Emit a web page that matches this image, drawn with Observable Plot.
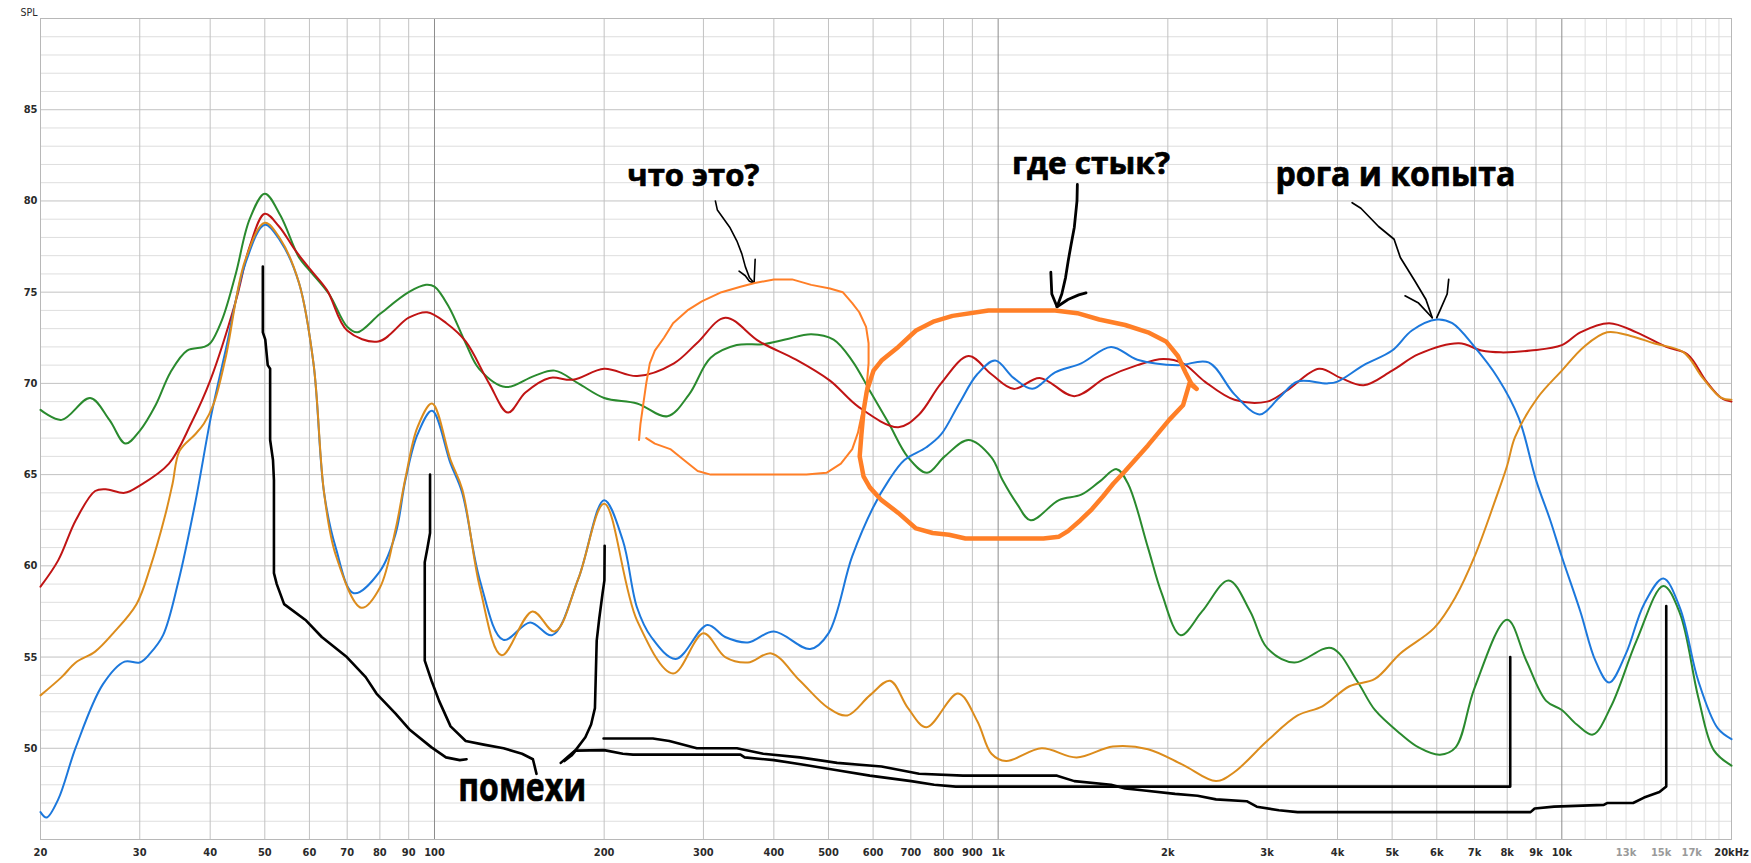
<!DOCTYPE html>
<html><head><meta charset="utf-8">
<script src="https://cdn.jsdelivr.net/npm/d3@7"></script>
<script src="https://cdn.jsdelivr.net/npm/@observablehq/plot@0.6"></script>
<style>
html,body{margin:0;padding:0;background:#fff;}
#chart{width:1751px;height:863px;}
</style></head><body><div id="chart"></div>
<script>
// ---- measured responses [frequency Hz, SPL dB] ----
const green = [[20,68.55],[21.8,68.0],[24.5,69.2],[26.5,68.0],[28.3,66.7],[30,67.4],[32,68.8],[34,70.6],[36.4,71.8],[39,72.0],[40,72.2],[42,73.5],[44.4,76.0],[47,79.0],[50,80.4],[53.3,79.2],[57.5,76.9],[60,76.2],[65,74.9],[70,73.1],[73,72.8],[80,73.8],[90,75.0],[96.6,75.4],[100,75.3],[106,74.2],[113.6,72.2],[120,70.8],[133.8,69.8],[150,70.4],[163.4,70.7],[180,70.0],[200,69.2],[228.8,68.9],[259,68.2],[283,69.4],[309,71.4],[343.7,72.1],[382.6,72.15],[419,72.4],[466,72.7],[510.6,72.4],[550.6,71.25],[592,69.6],[640,67.8],[692,65.95],[748,65.1],[804,66.0],[886,66.9],[973,65.95],[1018,64.7],[1080,63.4],[1142,62.5],[1282,63.6],[1404,63.9],[1511,64.6],[1622,65.3],[1700,64.5],[1844,61.0],[1950,58.5],[2108,56.2],[2300,57.5],[2564,59.2],[2800,57.5],[3000,55.5],[3350,54.7],[3900,55.5],[4330,53.7],[4660,52.1],[5170,50.8],[5570,50.05],[6080,49.65],[6480,50.05],[7000,53.3],[8000,57.05],[8650,54.8],[9380,52.6],[10000,52.1],[10630,51.3],[11350,50.75],[12230,52.3],[13570,55.9],[15140,58.9],[16200,57.4],[17460,52.8],[18600,49.9],[20000,49.05]];
const red = [[20,58.86],[21.5,60.3],[23.1,62.5],[25,64.1],[26.1,64.2],[28.2,64.0],[30,64.4],[33.8,65.6],[37,67.8],[40,70.15],[44.4,74.5],[47,77.5],[50,79.3],[53,78.6],[56.6,77.3],[60,76.3],[64.5,75.1],[70,72.9],[79.5,72.3],[90,73.6],[97,73.9],[105,73.3],[113.6,72.3],[125,70.0],[135,68.4],[145,69.5],[160,70.3],[176,70.2],[200,70.8],[228.8,70.4],[266,71.1],[292,72.2],[328,73.6],[376.8,72.3],[438,71.3],[503,70.15],[566,68.7],[665,67.6],[724,68.3],[792,70.0],[886,71.5],[973,70.5],[1065,69.7],[1185,70.3],[1365,69.3],[1550,70.3],[1766,71.0],[1963,71.34],[2128,71.1],[2326,70.1],[2626,69.1],[3000,69.0],[3250,69.6],[3710,70.8],[4050,70.3],[4452,69.9],[5000,70.7],[5570,71.6],[6570,72.2],[7200,71.8],[7800,71.7],[8800,71.8],[10000,72.1],[10786,72.8],[12134,73.3],[13570,72.8],[15320,72.0],[16700,71.6],[18060,70.1],[19190,69.2],[20000,69.0]];
const blue = [[20,46.5],[20.5,46.2],[21.5,47.2],[23.1,50.05],[25.8,53.5],[28.2,54.75],[30,54.7],[31.3,55.2],[33,56.2],[35.1,59.1],[37.6,63.4],[40.2,68.3],[42.6,71.8],[46.1,76.5],[50,78.7],[53.3,77.8],[57.5,75.5],[61,71.1],[63.7,64.0],[66.8,61.0],[71.9,58.5],[80,59.7],[85.3,61.75],[88.8,64.7],[93.3,67.2],[99,68.5],[106.8,65.6],[112,64.0],[120.4,59.2],[132.5,55.94],[147.8,56.9],[161.8,56.2],[180,59.3],[200,63.6],[215.8,61.4],[228.8,57.7],[242.4,56.1],[268,54.9],[304.8,56.76],[327.9,56.1],[359.8,55.8],[400,56.4],[464,55.44],[500,56.3],[550.6,60.5],[600,63.2],[640,64.7],[682,65.8],[746,66.5],[792,67.2],[853,68.9],[918,70.5],[988,71.25],[1065,70.3],[1150,69.7],[1262,70.6],[1404,71.1],[1586,72.0],[1766,71.3],[2084,71.0],[2362,71.15],[2626,69.4],[2910,68.3],[3148,69.2],[3398,70.1],[3836,70.0],[4000,70.1],[4452,71.0],[5000,71.8],[5420,72.9],[6000,73.5],[6392,73.3],[7000,72.0],[7700,70.3],[8388,68.1],[9000,64.7],[9538,62.5],[10000,60.5],[10786,57.5],[11470,54.8],[12134,53.6],[13000,55.2],[13992,57.9],[15140,59.3],[16200,57.7],[17460,53.7],[18900,51.1],[20000,50.5]];
const orange = [[20,52.9],[21.8,53.9],[23.1,54.7],[25,55.3],[26.9,56.3],[29.6,57.9],[31.3,59.9],[33.3,62.8],[34.3,64.5],[35.3,66.3],[37.6,67.2],[39,67.8],[40.6,68.9],[42.6,71.4],[46.1,76.7],[50,78.8],[53.3,77.9],[57.5,75.5],[61,71.1],[63.7,64.0],[66.8,60.6],[74.2,57.7],[80,58.8],[85.3,62.0],[88.8,64.8],[93.3,67.6],[99,68.9],[106.8,65.8],[112,64.2],[120.4,58.8],[131.6,55.1],[149.2,57.5],[163.4,56.4],[180,59.3],[200,63.4],[228.8,57.0],[265,54.1],[300,56.3],[327.9,55.0],[359.8,54.7],[396,55.2],[445,53.7],[500,52.2],[540,51.8],[592,52.9],[643,53.7],[692,52.2],[746,51.15],[849,53.0],[918,51.5],[973,49.7],[1033,49.3],[1194,50.0],[1378,49.5],[1598,50.1],[1844,49.95],[2124,49.1],[2435,48.2],[2626,48.7],[3000,50.4],[3398,51.8],[3760,52.3],[4200,53.4],[4660,53.8],[5170,55.2],[5940,56.6],[6480,58.3],[7000,60.5],[7620,63.6],[8000,65.5],[8260,67.05],[9050,69.2],[10000,70.7],[10940,72.0],[12030,72.8],[13250,72.6],[14560,72.2],[16450,71.7],[17780,70.3],[19190,69.2],[20000,69.1]];

// ---- hand-drawn annotations [frequency Hz, SPL dB] ----
const noise50 = [[49.6,76.4],[49.6,72.8],[50.1,72.4],[50.6,71.0],[51.1,70.8],[51.1,66.9],[51.7,65.8],[51.9,64.7],[51.9,59.6],[52.5,59.0],[54.1,57.9],[59.2,57.0],[63.1,56.1],[69.9,55.0],[75.5,53.9],[78.9,53.0],[85.3,51.9],[90.5,51.0],[98.8,50.05],[104.8,49.5],[110.9,49.35],[114,49.4]];
const noise100 = [[98.2,65.0],[98.2,61.8],[97.2,61.0],[96.1,60.2],[96.1,54.8],[98.8,53.7],[101.9,52.6],[106.8,51.2],[113.6,50.4],[122.3,50.2],[132.6,50.0],[143,49.7],[149.5,49.4],[151.7,48.6]];
const noise200 = [[200.4,61.1],[200.2,59.2],[198.7,58.5],[196,57.1],[194,55.9],[192.6,52.2],[189.6,51.3],[185.2,50.6],[178,49.9],[167.5,49.2]];
const floorTo8k = [[170,49.3],[175,49.6],[178,49.87],[200,49.9],[215.8,49.7],[225,49.65],[349,49.65],[355,49.5],[400,49.35],[452,49.1],[518,48.8],[592,48.5],[701,48.2],[770,48.0],[841,47.9],[8100,47.9],[8100,55.0]];
const floorTo15k = [[199.5,50.54],[244,50.54],[261,50.4],[292,50.0],[344,50.0],[383,49.7],[445,49.5],[518,49.2],[621,49.0],[724,48.6],[866,48.5],[1272,48.5],[1365,48.2],[1586,48.0],[1680,47.8],[1800,47.7],[2060,47.5],[2258,47.4],[2435,47.2],[2760,47.1],[2876,46.8],[3148,46.6],[3398,46.5],[8800,46.5],[8950,46.7],[9690,46.8],[11870,46.9],[12030,47.0],[13380,47.0],[13992,47.3],[14900,47.6],[15320,47.9],[15320,57.8]];
const arrowWhat = [[315,80.0],[317.6,79.5],[334,78.56],[344,77.8],[351,77.1],[356,76.4],[362,75.8],[369,75.5]];
const arrowWhatHead = [[347,76.15],[356,75.9],[362,75.6],[369,75.5],[370.6,76.8]];
const arrowJoint = [[1382,80.9],[1380,80.0],[1365,78.56],[1347,77.6],[1331,76.7],[1317,75.8],[1297,74.9],[1272,74.2]];
const arrowJointHead = [[1240,76.1],[1245,74.9],[1272,74.2],[1330,74.6],[1390,74.85],[1432,74.96]];
const arrowHorns = [[4246,79.9],[4400,79.6],[4730,78.6],[5040,77.9],[5170,76.9],[5490,75.6],[5740,74.6],[5890,73.6]];
const arrowHornsLeft = [[5270,74.8],[5570,74.4],[5890,73.6]];
const arrowHornsRight = [[6300,75.7],[6260,74.9],[6080,74.0],[6000,73.6]];
const circleThin = [[230.6,66.9],[232,67.8],[237.5,70.0],[241,71.1],[246,71.8],[255.4,72.5],[265,73.3],[281,74.0],[298,74.5],[323,75.0],[349,75.3],[370,75.5],[400,75.7],[431,75.7],[466,75.4],[503,75.2],[530,75.0],[551,74.4],[567,73.9],[583,73.1],[589,72.2],[589,71.1],[585,70.0],[580,68.9],[572,68.2],[564,67.3],[551,66.4],[526,65.6],[496,65.1],[457,65.0],[309,65.0],[293,65.2],[277,65.8],[262,66.4],[246,66.7],[237.5,67.0]];
const circleThick = [[621,71.25],[665,72.0],[715,72.9],[770,73.4],[830,73.7],[961,74.0],[1040,74.0],[1262,74.0],[1382,73.85],[1511,73.5],[1680,73.2],[1844,72.8],[1985,72.3],[2084,71.5],[2150,70.6],[2200,70.0],[2250,69.7],[2185,70.0],[2128,68.8],[2011,68.0],[1844,66.6],[1680,65.2],[1600,64.5],[1534,63.8],[1466,63.1],[1400,62.5],[1330,61.9],[1282,61.6],[1203,61.5],[875,61.5],[818,61.7],[765,61.8],[715,62.05],[665,62.9],[621,63.6],[592,64.3],[577,64.9],[568,66.0],[572,67.2],[577,68.5],[585,69.6],[601,70.7],[621,71.25]];
const notes = ["что это?", "где стык?", "рога и копыта", "помехи"];
const noteFreq = [219.8, 1058, 3104, 110.2];
const noteSpl = [80.84, 81.45, 80.84, 47.09];

// ---- axes ----
const xTickValues = [20,30,40,50,60,70,80,90,100,200,300,400,500,600,700,800,900,1000,2000,3000,4000,5000,6000,7000,8000,9000,10000,13000,15000,17000,20000];
const xTickLabels = ["20","30","40","50","60","70","80","90","100","200","300","400","500","600","700","800","900","1k","2k","3k","4k","5k","6k","7k","8k","9k","10k","13k","15k","17k","20kHz"];
const xFaintTicks = [13000,15000,17000];
const yTickValues = [50,55,60,65,70,75,80,85];
const vGrid = [30,40,50,60,70,80,90,200,300,400,500,600,700,800,900,2000,3000,4000,5000,6000,7000,8000,9000];
const vGridFine = [11000,12000,13000,14000,15000,16000,17000,18000,19000];
const vGridDecade = [100,1000,10000];
const hGridFine = d3.range(46, 90).filter(v => v % 5 !== 0);
const hGrid = [50,55,60,65,70,75,80,85];

// styling of the hand-written notes
const noteSizes = [31, 31, 34, 40];
const noteLengths = [132, 158, 240, 128];

const P = (pts) => pts.map(([f, s]) => ({f, s}));
const curve = (pts, color) => Plot.line(P(pts), {x: "f", y: "s", stroke: color, strokeWidth: 2, curve: "catmull-rom"});
const ink = (pts, w, color = "#000") => Plot.line(P(pts), {x: "f", y: "s", stroke: color, strokeWidth: w, curve: "linear", strokeLinejoin: "round", strokeLinecap: "round"});

const tickFont = "'DejaVu Sans Condensed', 'DejaVu Sans', sans-serif";
const plot = Plot.plot({
  width: 1751, height: 863,
  marginLeft: 40, marginRight: 20, marginTop: 18, marginBottom: 24,
  x: {type: "log", domain: [20, 20000], axis: null},
  y: {domain: [45, 90], axis: null},
  style: {background: "#ffffff", overflow: "visible"},
  marks: [
    Plot.ruleY(hGridFine, {stroke: "#dedede"}),
    Plot.ruleX(vGridFine, {stroke: "#dedede"}),
    Plot.ruleY(hGrid, {stroke: "#c2c2c2"}),
    Plot.ruleX(vGrid, {stroke: "#c2c2c2"}),
    Plot.ruleX(vGridDecade, {stroke: "#8c8c8c"}),
    Plot.frame({stroke: "#b8b8b8"}),
    Plot.text(xTickValues, {x: d => d, y: 45, dy: 13, text: (d, i) => xTickLabels[i], fill: d => xFaintTicks.includes(d) ? "#9a9a9a" : "#2a2a2a", fontSize: 11, fontFamily: tickFont, fontWeight: "bold"}),
    Plot.text(yTickValues, {x: 20, y: d => d, dx: -3, text: d => String(d), textAnchor: "end", fill: "#2a2a2a", fontSize: 11, fontFamily: tickFont, fontWeight: "bold"}),
    Plot.text(["SPL"], {frameAnchor: "top-left", dx: -3, dy: -10, textAnchor: "end", fill: "#2a2a2a", fontSize: 10.5, fontFamily: "'DejaVu Sans Condensed', 'DejaVu Sans', sans-serif"}),
    curve(green, "#2a8a2e"),
    curve(red, "#c01414"),
    curve(blue, "#1c78dc"),
    curve(orange, "#dc8c1c"),
    ink(noise50, 2.6), ink(noise100, 2.6), ink(noise200, 2.6),
    ink(floorTo8k, 2.6), ink(floorTo15k, 2.6),
    ink(arrowWhat, 1.6), ink(arrowWhatHead, 1.6),
    ink(arrowJoint, 2.8), ink(arrowJointHead, 2.8),
    ink(arrowHorns, 1.7), ink(arrowHornsLeft, 1.7), ink(arrowHornsRight, 1.7),
    ink(circleThin, 2, "#ff7f27"),
    ink(circleThick, 4.5, "#ff7f27"),
    Plot.text(notes, {x: (d, i) => noteFreq[i], y: (d, i) => noteSpl[i], text: d => d, textAnchor: "start", lineAnchor: "bottom", fill: "#000", stroke: "#000", strokeWidth: 0.7, fontWeight: "bold", fontFamily: "'Open Sans', sans-serif", fontSize: (d, i) => noteSizes[i]})
  ]
});
d3.select(plot).selectAll("text").each(function() {
  const k = notes.indexOf(this.textContent);
  if (k >= 0) {
    this.setAttribute("textLength", noteLengths[k]);
    this.setAttribute("lengthAdjust", "spacingAndGlyphs");
  }
});
document.getElementById("chart").appendChild(plot);
</script></body></html>
